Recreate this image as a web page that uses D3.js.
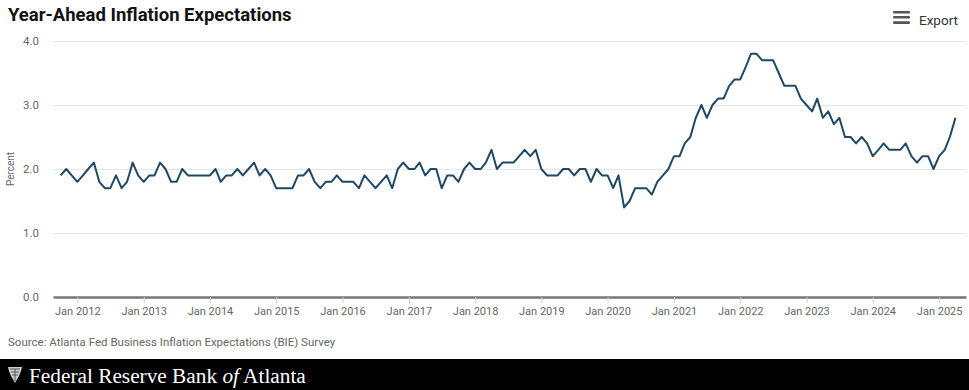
<!DOCTYPE html>
<html>
<head>
<meta charset="utf-8">
<script src="https://cdn.jsdelivr.net/npm/d3@7"></script>
<style>
  html, body { margin: 0; padding: 0; background: #fff; }
  svg { display: block; }
</style>
</head>
<body>
<svg id="chart" width="969" height="390"></svg>
<script>
// ---- Data (monthly, Oct 2011 – Apr 2025) ----
const firstMonth = "2011-10";
const v2011 = [1.9, 2.0, 1.9];
const v2012 = [1.8, 1.9, 2.0, 2.1, 1.8, 1.7, 1.7, 1.9, 1.7, 1.8, 2.1, 1.9];
const v2013 = [1.8, 1.9, 1.9, 2.1, 2.0, 1.8, 1.8, 2.0, 1.9, 1.9, 1.9, 1.9];
const v2014 = [1.9, 2.0, 1.8, 1.9, 1.9, 2.0, 1.9, 2.0, 2.1, 1.9, 2.0, 1.9];
const v2015 = [1.7, 1.7, 1.7, 1.7, 1.9, 1.9, 2.0, 1.8, 1.7, 1.8, 1.8, 1.9];
const v2016 = [1.8, 1.8, 1.8, 1.7, 1.9, 1.8, 1.7, 1.8, 1.9, 1.7, 2.0, 2.1];
const v2017 = [2.0, 2.0, 2.1, 1.9, 2.0, 2.0, 1.7, 1.9, 1.9, 1.8, 2.0, 2.1];
const v2018 = [2.0, 2.0, 2.1, 2.3, 2.0, 2.1, 2.1, 2.1, 2.2, 2.3, 2.2, 2.3];
const v2019 = [2.0, 1.9, 1.9, 1.9, 2.0, 2.0, 1.9, 2.0, 2.0, 1.8, 2.0, 1.9];
const v2020 = [1.9, 1.7, 1.9, 1.4, 1.5, 1.7, 1.7, 1.7, 1.6, 1.8, 1.9, 2.0];
const v2021 = [2.2, 2.2, 2.4, 2.5, 2.8, 3.0, 2.8, 3.0, 3.1, 3.1, 3.3, 3.4];
const v2022 = [3.4, 3.6, 3.8, 3.8, 3.7, 3.7, 3.7, 3.5, 3.3, 3.3, 3.3, 3.1];
const v2023 = [3.0, 2.9, 3.1, 2.8, 2.9, 2.7, 2.8, 2.5, 2.5, 2.4, 2.5, 2.4];
const v2024 = [2.2, 2.3, 2.4, 2.3, 2.3, 2.3, 2.4, 2.2, 2.1, 2.2, 2.2, 2.0];
const v2025 = [2.2, 2.3, 2.5, 2.8];

const yTicks = [0, 1, 2, 3, 4];
const xTickLabels = ["Jan 2012","Jan 2013","Jan 2014","Jan 2015","Jan 2016","Jan 2017","Jan 2018",
                     "Jan 2019","Jan 2020","Jan 2021","Jan 2022","Jan 2023","Jan 2024","Jan 2025"];

const title = "Year-Ahead Inflation Expectations";
const yTitle = "Percent";
const source = "Source: Atlanta Fed Business Inflation Expectations (BIE) Survey";

// ---- Build series ----
const values = [].concat(v2011, v2012, v2013, v2014, v2015, v2016, v2017, v2018,
                         v2019, v2020, v2021, v2022, v2023, v2024, v2025);
const parseMonth = d3.timeParse("%Y-%m");
const start = parseMonth(firstMonth);
const data = values.map((v, i) => ({ date: d3.timeMonth.offset(start, i), value: v }));
const parseLabel = d3.timeParse("%b %Y");
const tickDates = xTickLabels.map(parseLabel);

// ---- Layout ----
const svg = d3.select("#chart");
const plot = { left: 53, right: 966, top: 41, bottom: 297 };
const axisFont = "Roboto, 'Noto Sans', sans-serif";

const x = d3.scaleTime()
  .domain([new Date(2011, 7, 20), new Date(2025, 4, 29)])
  .range([plot.left, plot.right]);
const y = d3.scaleLinear().domain([0, 4]).range([plot.bottom, plot.top]);

// Title
svg.append("text")
  .attr("x", 8).attr("y", 21)
  .attr("font-family", "Roboto, 'Noto Sans', sans-serif")
  .attr("font-weight", 700)
  .attr("font-size", 18.5)
  .attr("fill", "#111")
  .text(title);

// Export button
const exp = svg.append("g").attr("transform", "translate(893,0)");
[11, 16, 21.3].forEach(yy => {
  exp.append("rect").attr("x", 0).attr("y", yy).attr("width", 17).attr("height", 2.6)
    .attr("rx", 1).attr("fill", "#555");
});
svg.append("text")
  .attr("x", 919).attr("y", 25)
  .attr("font-family", axisFont).attr("font-size", 13.5).attr("fill", "#333")
  .text("Export");

// Gridlines
svg.append("g")
  .selectAll("line")
  .data(yTicks.filter(t => t > 0))
  .join("line")
  .attr("x1", plot.left).attr("x2", plot.right)
  .attr("y1", d => y(d) + 0.5).attr("y2", d => y(d) + 0.5)
  .attr("stroke", "#e6e6e6").attr("stroke-width", 1);

// Y axis labels
const yAxis = d3.axisLeft(y).tickValues(yTicks).tickFormat(d3.format(".1f")).tickSize(0).tickPadding(0);
const gy = svg.append("g").attr("transform", `translate(39,0)`).call(yAxis);
gy.select(".domain").remove();
gy.selectAll("text").attr("font-family", axisFont).attr("font-size", 11.5).attr("fill", "#666");

// Y title
svg.append("text")
  .attr("transform", `translate(14,${y(2)}) rotate(-90)`)
  .attr("text-anchor", "middle")
  .attr("font-family", axisFont).attr("font-size", 10).attr("fill", "#666")
  .text(yTitle);

// X axis
const xAxis = d3.axisBottom(x).tickValues(tickDates)
  .tickFormat((d, i) => xTickLabels[i]).tickSize(6).tickPadding(4).tickSizeOuter(0);
const gx = svg.append("g").attr("transform", `translate(0,${plot.bottom})`).call(xAxis);
gx.select(".domain").attr("stroke", "#777").attr("stroke-width", 2.5);
gx.selectAll(".tick line").attr("stroke", "#ccc").attr("stroke-width", 1);
gx.selectAll("text").attr("font-family", axisFont).attr("font-size", 11).attr("fill", "#666");

// Line
const line = d3.line().x(d => x(d.date)).y(d => y(d.value));
svg.append("path")
  .datum(data)
  .attr("d", line)
  .attr("fill", "none")
  .attr("stroke", "#1f4766")
  .attr("stroke-width", 2)
  .attr("stroke-linejoin", "round");

// Source
svg.append("text")
  .attr("x", 8).attr("y", 346)
  .attr("font-family", axisFont).attr("font-size", 11.5).attr("fill", "#666")
  .text(source);

// Footer band
svg.append("rect").attr("x", 0).attr("y", 359).attr("width", 969).attr("height", 31).attr("fill", "#000");
// Logo (stylised eagle shield)
const logo = svg.append("g").attr("transform", "translate(8,367)");
logo.append("path")
  .attr("d", "M0,0 L14,0 L13,4 L11,9 L7,16 L3,9 L1,4 Z")
  .attr("fill", "#cfcfcf");
logo.append("path")
  .attr("d", "M2,2 L12,2 M3,5 L11,5 M4,8 L10,8 M7,2 L7,14")
  .attr("stroke", "#555").attr("stroke-width", 1);
const ft = svg.append("text")
  .attr("x", 29).attr("y", 383)
  .attr("font-family", "'Liberation Serif', 'DejaVu Serif', serif")
  .attr("font-size", 21.3).attr("fill", "#fff");
ft.append("tspan").text("Federal Reserve Bank ");
ft.append("tspan").attr("font-style", "italic").text("of");
ft.append("tspan").text(" Atlanta");
</script>
</body>
</html>
